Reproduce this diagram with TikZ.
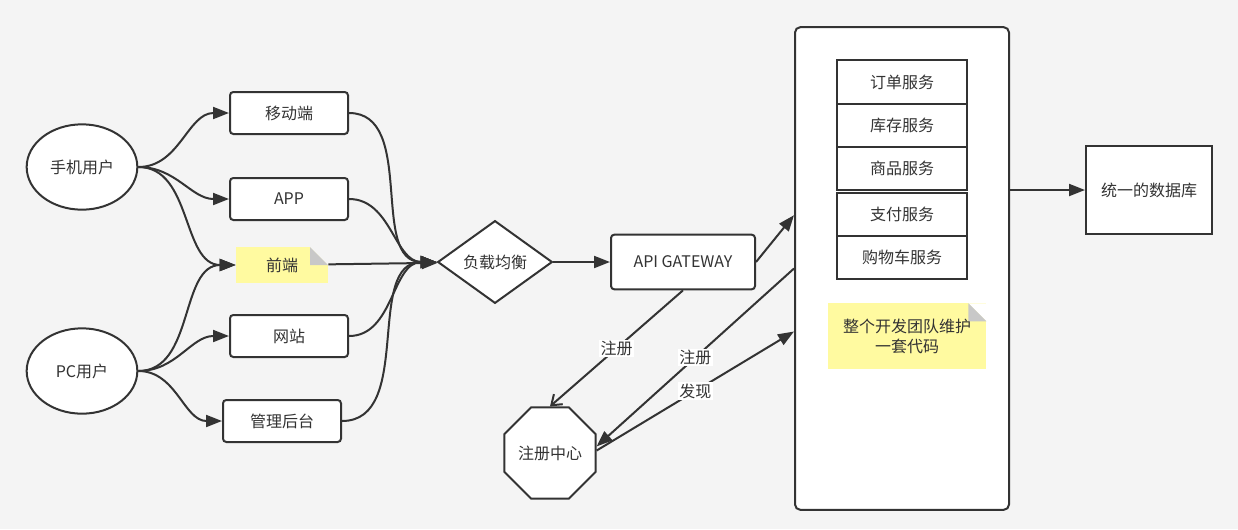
\documentclass[tikz,border=0pt]{standalone}
\usepackage{fontspec}
\setmainfont{Noto Sans CJK SC}
\usepackage{tikz}
\usetikzlibrary{positioning, shapes.geometric, arrows.meta, calc}
\definecolor{diagline}{HTML}{333333}
\definecolor{diagnote}{HTML}{FFFAA0}
\definecolor{diagfold}{HTML}{C8C8C8}
\definecolor{diagbg}{HTML}{F4F4F4}

\begin{document}
\begin{tikzpicture}[x=0.75pt, y=-0.75pt,
  font=\fontsize{12pt}{15pt}\selectfont, text=diagline,
  shp/.style={draw=diagline, line width=1.5pt, fill=white},
  box/.style={shp, rounded corners=2.5pt, minimum width=88.5pt, minimum height=31.5pt},
  user/.style={shp, ellipse, minimum width=83pt, minimum height=64pt},
  svc/.style={shp, outer sep=0pt, minimum width=97.5pt, minimum height=32.4pt},
  note/.style={fill=diagnote, align=center, inner sep=0pt,
    path picture={
      \fill[#1] ($(path picture bounding box.north east)+(-18,0)$) -- (path picture bounding box.north east) -- ++(0,18) -- cycle;
      \fill[diagfold] ($(path picture bounding box.north east)+(-18,0)$) -- ++(0,18) -- ++(18,0) -- cycle;}},
  arr/.style={draw=diagline, line width=1.5pt, -{Triangle[length=12pt,width=9pt]}},
  lbl/.style={fill=white, inner sep=1pt}]
\fill[diagbg] (0,0) rectangle (1238,529);
\useasboundingbox (0,0) rectangle (1238,529);

% users and clients
\node[user](phone) at (82,167) {手机用户};
\node[user](pc) at (82,371) {PC用户};
\node[box](mobile) at (289,113) {移动端};
\node[box](app) at (289,199) {APP};
\node[note=diagbg, minimum width=69pt, minimum height=27pt](front) at (282,265) {前端};
\node[box](web) at (289,336) {网站};
\node[box](admin) at (282,421) {管理后台};

\node[shp, diamond, minimum width=86pt, minimum height=62pt, inner sep=0pt](lb) at (495,262) {负载均衡};
\node[box, minimum width=108pt, minimum height=41pt](gw) at (683,262) {API GATEWAY};
\node[shp, regular polygon, regular polygon sides=8, minimum size=74pt, inner sep=0pt](reg) at (550,453) {注册中心};

% monolith with its services
\node[shp, rounded corners=4pt, minimum width=160.5pt, minimum height=362pt](mono) at (902,268.5) {};
\node[svc](order) at (902,82) {订单服务};
\node[svc, below=0pt of order](stock) {库存服务};
\node[svc, below=0pt of stock](goods) {商品服务};
\node[svc, below=2pt of goods](pay) {支付服务};
\node[svc, below=0pt of pay](cart) {购物车服务};
\node[note=white, minimum width=119pt, minimum height=49pt](team) at (907,336) {整个开发团队维护\\一套代码};
\node[shp, minimum width=94.5pt, minimum height=66pt](db) at (1149,190) {统一的数据库};

\foreach \src/\dst in {phone/mobile, phone/app, phone/front, pc/front, pc/web, pc/admin}
  {\draw[arr](\src.east) to[out=0,in=180] (\dst.west);}
\foreach \src in {mobile, app, web, admin}
  {\draw[arr](\src.east) to[out=0,in=180] (lb.west);}
\draw[arr](front)--(lb);
\draw[arr](lb)--(gw);

\draw[arr](gw.east)--($(mono.north west)!0.39!(mono.south west)$);
\draw[arr]($(mono.north west)!0.50!(mono.south west)$)--node[lbl]{注册}(reg.8);
\draw[arr](reg.3)--node[lbl]{发现}($(mono.north west)!0.63!(mono.south west)$);
\draw[draw=diagline, line width=1.5pt, -{Straight Barb[length=7pt,width=10pt]}](gw.south)--node[lbl]{注册}(reg.north);
\draw[arr](mono.east |- db.west)--(db.west);

\end{tikzpicture}
\end{document}
